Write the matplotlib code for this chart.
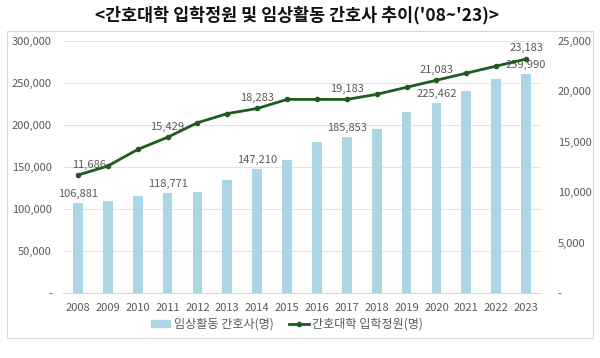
import matplotlib.pyplot as plt
from matplotlib.patches import Rectangle
from matplotlib.ticker import FuncFormatter

plt.rcParams['font.family'] = ['Noto Sans CJK KR', 'DejaVu Sans']

# 데이터
years = [str(y) for y in range(2008, 2024)]
nurses = [106881, 109700, 115700, 118771, 120100, 134700, 147210, 158100,
          179900, 185853, 195400, 215600, 225462, 240200, 254500, 259990]
quota = [11686, 12583, 14223, 15429, 16869, 17777, 18283, 19183,
         19183, 19183, 19683, 20383, 21083, 21783, 22483, 23183]
labeled = [0, 3, 6, 9, 12, 15]

bar_color = '#abd6e3'
line_color = '#1f5a1f'
text_color = '#595959'

fig = plt.figure(figsize=(6.0, 3.58), dpi=100)
ax = fig.add_axes([63 / 600, 1 - 293 / 358, (541 - 63) / 600, (293 - 40.7) / 358])
ax2 = ax.twinx()

x = list(range(len(years)))
ax.bar(x, nurses, width=0.33, color=bar_color, zorder=2)
ax2.plot(x, quota, color=line_color, lw=2, marker='o', ms=3, zorder=3)

ax.set_xlim(-0.5, len(years) - 0.5)
ax.set_ylim(0, 300000)
ax2.set_ylim(0, 25000)
ax.set_yticks(range(0, 300001, 50000))
ax2.set_yticks(range(0, 25001, 5000))

fmt = FuncFormatter(lambda v, p: '-' if v == 0 else f'{int(v):,}')
ax.yaxis.set_major_formatter(fmt)
ax2.yaxis.set_major_formatter(fmt)
ax.set_xticks(x)
ax.set_xticklabels(years)

ax.grid(axis='y', color='#e3e3e3', lw=0.8, zorder=0)
ax.set_axisbelow(True)
for a in (ax, ax2):
    for s in a.spines.values():
        s.set_visible(False)
    a.tick_params(length=0, labelsize=8, labelcolor=text_color)
ax.spines['bottom'].set_visible(True)
ax.spines['bottom'].set_color('#d9d9d9')
ax.tick_params(axis='y', pad=8)
ax2.tick_params(axis='y', pad=12)
ax.tick_params(axis='x', pad=7)

for i in labeled:
    ax.annotate(f'{nurses[i]:,}', (x[i], nurses[i]), xytext=(0, 3),
                textcoords='offset points', ha='center', va='bottom',
                fontsize=8, color=text_color)
    dx = 8 if i == 0 else 0
    ax2.annotate(f'{quota[i]:,}', (x[i], quota[i]), xytext=(dx, 4),
                 textcoords='offset points', ha='center', va='bottom',
                 fontsize=8, color=text_color)

# 범례
h1 = Rectangle((0, 0), 1, 1, color=bar_color)
h2, = ax2.plot([], [], color=line_color, lw=2, marker='o', ms=3)
fig.legend([h1, h2], ['임상활동 간호사(명)', '간호대학 입학정원(명)'],
           loc='center', bbox_to_anchor=(287 / 600, 1 - 324 / 358), ncol=2,
           frameon=False, fontsize=8.7, labelcolor=text_color,
           handlelength=1.6, handleheight=0.5, handletextpad=0.3,
           columnspacing=1.3)

# 차트 테두리
fig.patches.append(Rectangle((7 / 600, 1 - 338 / 358), 586 / 600, 307 / 358,
                             transform=fig.transFigure, fill=False,
                             ec='#d9d9d9', lw=0.8))

fig.text(297 / 600, 1 - 15 / 358, "<간호대학 입학정원 및 임상활동 간호사 추이('08~'23)>",
         ha='center', va='center', fontsize=12.5, fontweight='bold', color='#111111')

fig.savefig('out.png', dpi=100)
